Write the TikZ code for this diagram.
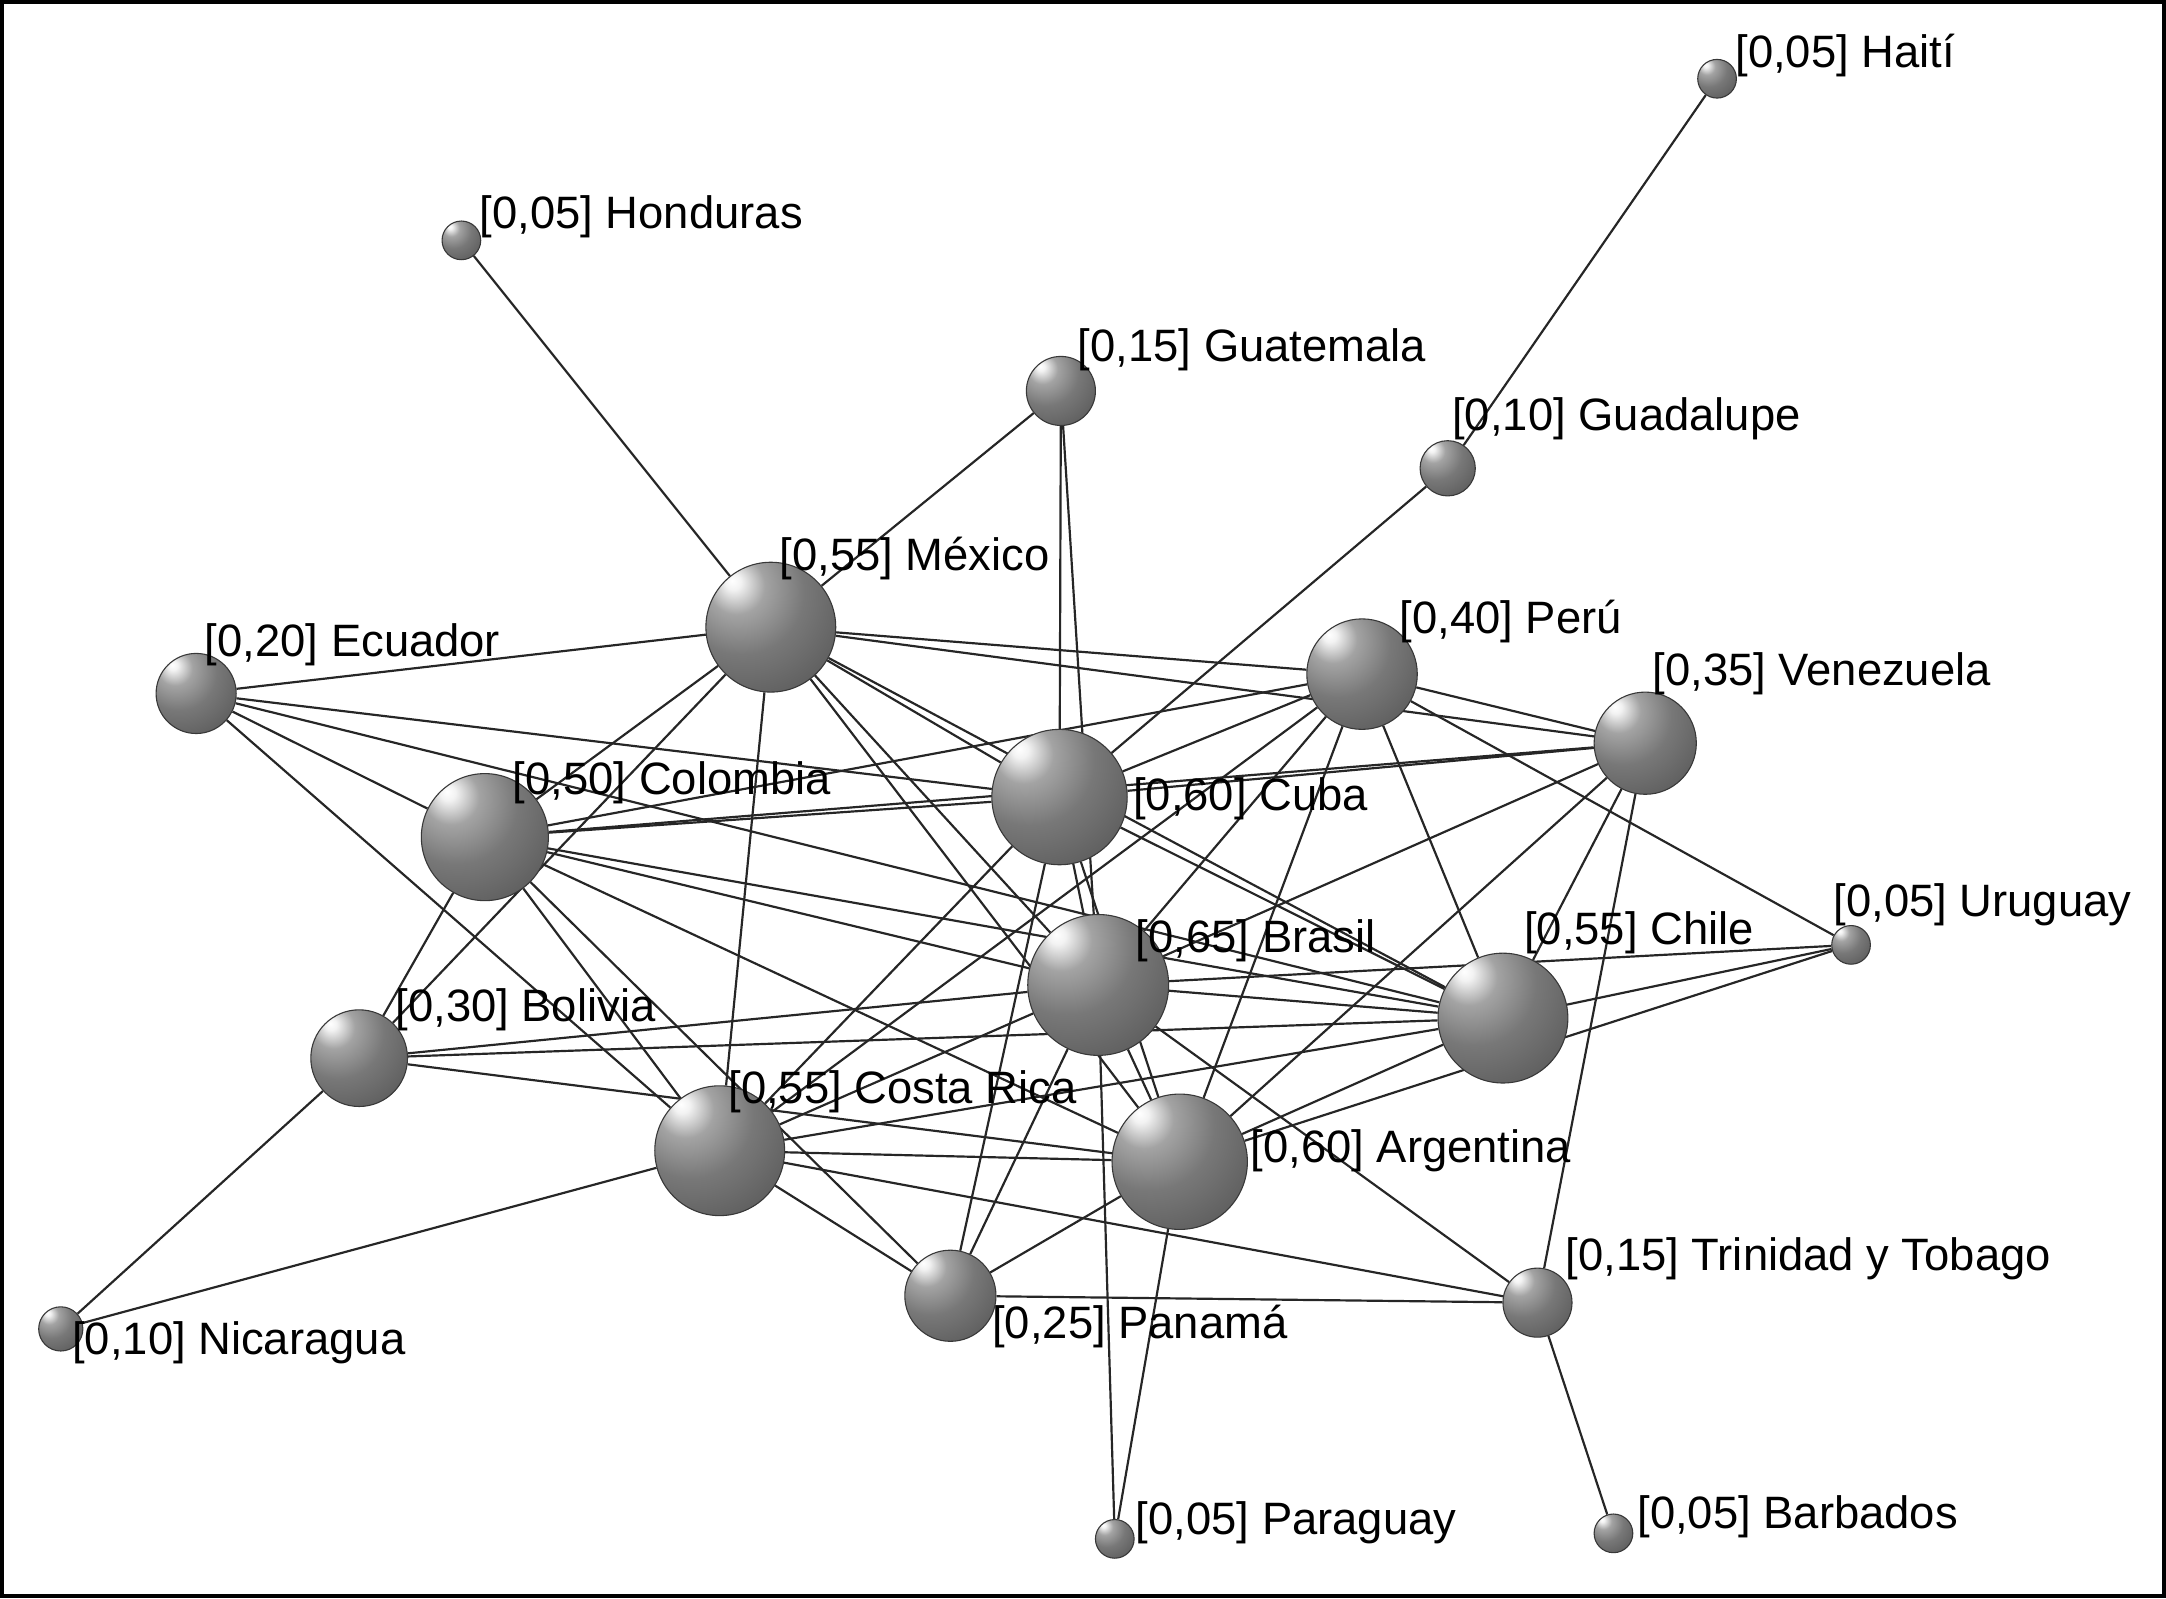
\documentclass[tikz,border=0pt]{standalone}
\usepackage{fontspec}
\setmainfont{Liberation Sans}
\usetikzlibrary{backgrounds}
\pgfdeclareradialshading{sphere}{\pgfqpoint{-15bp}{18bp}}{color(0bp)=(white); color(3bp)=(white!95!black); color(11bp)=(black!36); color(24bp)=(black!53); color(40bp)=(black!63); color(58bp)=(black!71); color(78bp)=(black!76); color(95bp)=(black!78)}
\newcommand\labfont{\fontsize{18.7}{21}\selectfont}
\begin{document}
\begin{tikzpicture}[x=0.02cm,y=-0.02cm,
  sph/.style={circle,inner sep=0pt,shading=sphere,draw=black!78,line width=0.45pt,minimum size=#1 cm},
  lab/.style={anchor=west,inner sep=0pt,font=\labfont,text=black},
  link/.style={draw=black!85,line width=0.9pt}]
\useasboundingbox (0,0) rectangle (1568,1157);
\draw[line width=1.8pt] (1.5,1.5) rectangle (1566.5,1155.5);

% spheres
\node[sph=0.56] (hai) at (1243,57) {};
\node[sph=0.56] (hon) at (334,174) {};
\node[sph=1.0]  (gua) at (768,283) {};
\node[sph=0.8]  (gpe) at (1048,339) {};
\node[sph=1.88] (mex) at (558,454) {};
\node[sph=1.16] (ecu) at (142,502) {};
\node[sph=1.6]  (per) at (986,488) {};
\node[sph=1.48] (ven) at (1191,538) {};
\node[sph=1.84] (col) at (351,606) {};
\node[sph=1.96] (cub) at (767,577) {};
\node[sph=0.56] (uru) at (1340,684) {};
\node[sph=2.04] (bra) at (795,713) {};
\node[sph=1.88] (chi) at (1088,737) {};
\node[sph=1.4]  (bol) at (260,766) {};
\node[sph=1.88] (cr)  at (521,833) {};
\node[sph=1.96] (arg) at (854,841) {};
\node[sph=1.0]  (tri) at (1113,943) {};
\node[sph=1.32] (pan) at (688,938) {};
\node[sph=0.64] (nic) at (44,962) {};
\node[sph=0.56] (par) at (807,1114) {};
\node[sph=0.56] (bar) at (1168,1110) {};

% connectors
\begin{scope}[on background layer]
\foreach \a/\b in {hai/gpe,gpe/cub,hon/mex,gua/mex,gua/cub,gua/bra,nic/bol,nic/cr,
  par/bra,par/arg,bar/tri,tri/ven,tri/bra,tri/cr,tri/pan,uru/per,uru/bra,uru/chi,uru/arg,
  ecu/mex,ecu/cub,ecu/chi,ecu/col,ecu/cr,
  mex/col,mex/bol,mex/cr,mex/cub,mex/chi,mex/bra,mex/arg,mex/per,mex/ven,
  col/bol,col/cub,col/ven,col/per,col/chi,col/bra,col/arg,col/cr,col/pan,
  bol/bra,bol/chi,bol/arg,
  cub/ven,cub/per,cub/chi,cub/bra,cub/arg,cub/pan,cub/cr,
  per/ven,per/chi,per/bra,per/arg,per/cr,
  ven/bra,ven/arg,ven/chi,
  bra/chi,bra/arg,bra/cr,bra/pan,
  chi/arg,chi/cr,cr/arg,cr/pan,pan/arg}
  \draw[link] (\a) -- (\b);
\end{scope}

% labels
\node[lab] (lhai) at (1256,40)  {[0,05] Haití};
\node[lab] (lhon) at (347,157)  {[0,05] Honduras};
\node[lab] (lgua) at (780,253)  {[0,15] Guatemala};
\node[lab] (lgpe) at (1051,303) {[0,10] Guadalupe};
\node[lab] (lmex) at (564,404)  {[0,55] México};
\node[lab] (lecu) at (148,467)  {[0,20] Ecuador};
\node[lab] (lper) at (1013,450) {[0,40] Perú};
\node[lab] (lven) at (1196,488) {[0,35] Venezuela};
\node[lab] (lcol) at (371,567)  {[0,50] Colombia};
\node[lab] (lcub) at (820,578)  {[0,60] Cuba};
\node[lab] (luru) at (1327,655) {[0,05] Uruguay};
\node[lab] (lbra) at (822,681)  {[0,65] Brasil};
\node[lab] (lchi) at (1103,675) {[0,55] Chile};
\node[lab] (lbol) at (286,731)  {[0,30] Bolivia};
\node[lab] (lcr)  at (527,790)  {[0,55] Costa Rica};
\node[lab] (larg) at (905,833)  {[0,60] Argentina};
\node[lab] (ltri) at (1133,911) {[0,15] Trinidad y Tobago};
\node[lab] (lpan) at (718,960)  {[0,25] Panamá};
\node[lab] (lnic) at (52,972)   {[0,10] Nicaragua};
\node[lab] (lpar) at (822,1102) {[0,05] Paraguay};
\node[lab] (lbar) at (1185,1098){[0,05] Barbados};
\end{tikzpicture}
\end{document}
